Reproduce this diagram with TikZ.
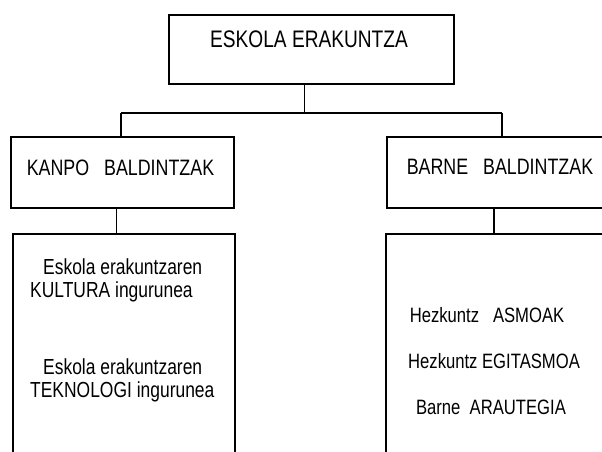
\documentclass[tikz,border=0pt]{standalone}
\usepackage{fontspec}
\setmainfont{Liberation Sans}
\newfontfamily\nar{Liberation Sans}[FakeStretch=0.8]
\begin{document}
\begin{tikzpicture}[x=1pt,y=-1pt,
  boxshape/.style={draw, line width=2pt, inner sep=0pt, anchor=north west},
  thinline/.style={line width=0.9pt},
  thickline/.style={line width=1.8pt},
  headtxt/.style={font=\nar\fontsize{22.3}{26}\selectfont, inner sep=0pt, anchor=base},
  bodytxt/.style={font=\nar\fontsize{21.8}{24}\selectfont, inner sep=0pt},
  rtxt/.style={font=\nar\fontsize{20.8}{24}\selectfont, inner sep=0pt, anchor=base}
]
\useasboundingbox (0,0) rectangle (602,452);
\clip (0,0) rectangle (602,452);
\fill[white] (0,0) rectangle (602,452);

% boxes
\node[boxshape, minimum width=285pt, minimum height=69pt] (topbox) at (168,14) {};
\node[boxshape, minimum width=223pt, minimum height=71pt] (kanpo) at (10,136) {};
\node[boxshape, minimum width=232pt, minimum height=71pt] (barne) at (386,136) {};
\node[boxshape, minimum width=222pt, minimum height=240pt] (kbody) at (12,233) {};
\node[boxshape, minimum width=230pt, minimum height=240pt] (bbody) at (385,233) {};

% texts
\node[headtxt, font=\nar\fontsize{23.9}{28}\selectfont] (toptxt) at (309,47.5) {ESKOLA ERAKUNTZA};
\node[headtxt] (kanpotxt) at (120.5,175) {KANPO\ \ \ BALDINTZAK};
\node[headtxt] (barnetxt) at (500,174) {BARNE\ \ \ BALDINTZAK};

\node[bodytxt, anchor=base west] (k1) at (43,274) {Eskola erakuntzaren};
\node[bodytxt, anchor=base west] (k2) at (30,297) {KULTURA ingurunea};
\node[bodytxt, anchor=base west] (k3) at (43,374) {Eskola erakuntzaren};
\node[bodytxt, anchor=base west] (k4) at (30,397) {TEKNOLOGI ingurunea};

\node[rtxt] (b1) at (487,322) {Hezkuntz\ \ \ ASMOAK};
\node[rtxt] (b2) at (494,368) {Hezkuntz EGITASMOA};
\node[rtxt] (b3) at (491,414) {Barne\ \ ARAUTEGIA};

% connectors
\coordinate (junc) at (304,113);
\coordinate (jl) at (121,113);
\coordinate (jr) at (502,113);
\draw[thinline] (topbox.south -| junc) -- (junc);
\draw[thickline] (jl) -- (jr);
\draw[thickline] (jl) -- (jl |- kanpo.north);
\draw[thickline] (jr) -- (jr |- barne.north);
\draw[thinline] (kanpo.south -| 116,0) -- (kbody.north -| 116,0);
\draw[thickline] (barne.south -| 494,0) -- (bbody.north -| 494,0);
\end{tikzpicture}
\end{document}
